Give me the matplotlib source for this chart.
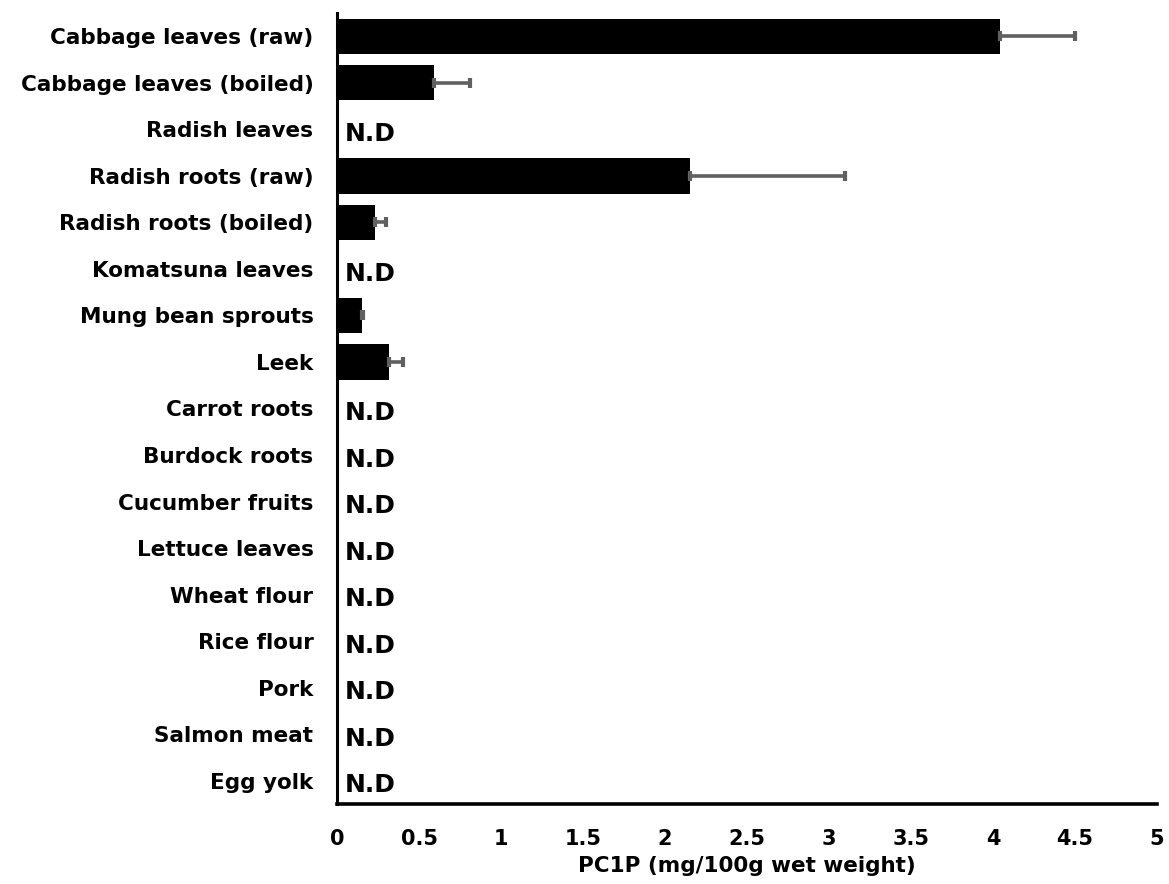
import numpy as np
import matplotlib
matplotlib.use("Agg")
import matplotlib.pyplot as plt

plt.rcParams['font.family'] = ['DejaVu Sans']
plt.rcParams['font.weight'] = 'bold'

# PC1P content per food sample (mg/100g wet weight); None = not detected
foods = ['Cabbage leaves (raw)', 'Cabbage leaves (boiled)', 'Radish leaves',
         'Radish roots (raw)', 'Radish roots (boiled)', 'Komatsuna leaves',
         'Mung bean sprouts', 'Leek', 'Carrot roots', 'Burdock roots',
         'Cucumber fruits', 'Lettuce leaves', 'Wheat flour', 'Rice flour',
         'Pork', 'Salmon meat', 'Egg yolk']
pc1p = [4.04, 0.59, None, 2.15, 0.23, None, 0.15, 0.32,
        None, None, None, None, None, None, None, None, None]
pc1p_sd = [0.46, 0.22, None, 0.95, 0.07, None, 0.01, 0.08,
           None, None, None, None, None, None, None, None, None]
xticks = [0, 0.5, 1, 1.5, 2, 2.5, 3, 3.5, 4, 4.5, 5]
xticklabels = ['0', '0.5', '1', '1.5', '2', '2.5', '3', '3.5', '4', '4.5', '5']

fig = plt.figure(figsize=(11.69, 8.84), dpi=100)
ax = fig.add_axes([337 / 1169, 1 - 804 / 884, (1157 - 337) / 1169, (804 - 13) / 884])

ypos = np.arange(len(foods))
det = [i for i, v in enumerate(pc1p) if v is not None]
nd = [i for i, v in enumerate(pc1p) if v is None]

ax.barh([ypos[i] for i in det], [pc1p[i] for i in det], height=0.76,
        color='black', zorder=2)
ax.errorbar([pc1p[i] for i in det], [ypos[i] for i in det],
            xerr=[[0] * len(det), [pc1p_sd[i] for i in det]],
            fmt='none', ecolor='#606060', elinewidth=2.6, capsize=3.5,
            capthick=3, zorder=3)

for i in nd:
    ax.text(0.05, ypos[i] + 0.1, 'N.D', ha='left', va='center',
            fontsize=18, fontweight='bold')

ax.set_ylim(len(foods) - 0.5, -0.5)
ax.set_xlim(0, 5)
ax.set_yticks(ypos)
ax.set_yticklabels(foods, fontsize=15.5, fontweight='bold')
ax.set_xticks(xticks)
ax.set_xticklabels(xticklabels, fontsize=15, fontweight='bold')
ax.tick_params(axis='both', length=0)
ax.tick_params(axis='y', pad=17)
ax.tick_params(axis='x', pad=18)
ax.set_xlabel('PC1P (mg/100g wet weight)', fontsize=15.5, fontweight='bold',
              labelpad=5)

for s in ['top', 'right']:
    ax.spines[s].set_visible(False)
ax.spines['left'].set_linewidth(2.2)
ax.spines['bottom'].set_linewidth(2.6)

fig.savefig('out.png', dpi=100)
